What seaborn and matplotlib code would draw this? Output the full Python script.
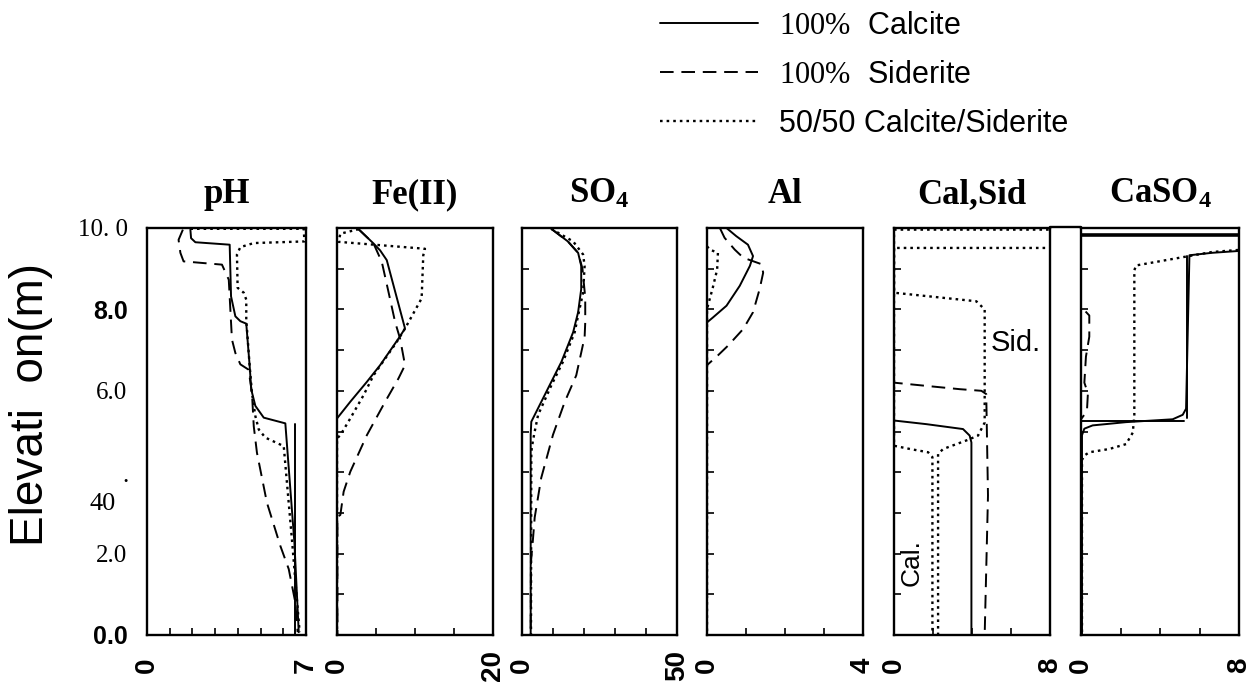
import numpy as np
import pandas as pd
import seaborn as sns
import matplotlib.pyplot as plt
from matplotlib.lines import Line2D

# ---------------- data ----------------
# pH panel
ph_cal_x = [1.91, 1.94, 2.13, 3.64, 3.70, 3.89, 4.11, 4.37, 4.52, 4.59, 4.77, 5.14, 6.09, 6.49, 6.68]
ph_cal_y = [9.96, 9.75, 9.65, 9.59, 8.32, 7.83, 7.71, 7.65, 6.61, 6.03, 5.63, 5.34, 5.20, 2.27, 0.07]
ph_front_x = [6.50, 6.50]
ph_front_y = [5.18, 0.02]
ph_sid_x = [1.58, 1.39, 1.47, 1.61, 3.30, 3.60, 3.74, 3.89, 4.11, 4.47, 4.62, 4.70, 4.84, 5.28, 5.87, 6.24, 6.53, 6.63]
ph_sid_y = [9.96, 9.71, 9.39, 9.18, 9.10, 8.73, 7.26, 6.93, 6.65, 6.52, 5.95, 5.13, 4.48, 3.25, 2.19, 1.62, 0.80, 0.07]
ph_mix_x = [1.91, 6.90, 6.93, 4.70, 4.11, 3.96, 3.99, 4.26, 4.37, 4.37, 4.52, 4.62, 4.77, 4.92, 5.21, 6.02, 6.38, 6.72]
ph_mix_y = [9.98, 9.98, 9.67, 9.63, 9.53, 9.35, 8.53, 8.41, 8.24, 7.75, 6.61, 5.95, 5.38, 5.05, 4.85, 4.64, 2.35, 0.07]

# Fe(II) panel
fe_cal_x = [2.77, 4.68, 5.53, 6.38, 8.72, 7.87, 5.53, 3.83, 1.70, 0.0, 0.0]
fe_cal_y = [9.97, 9.62, 9.45, 9.21, 7.53, 7.28, 6.63, 6.22, 5.73, 5.32, 0.0]
fe_sid_x = [2.77, 4.68, 5.74, 6.60, 7.45, 8.09, 8.72, 7.87, 6.17, 3.83, 1.70, 0.85, 0.43, 0.05, 0.05]
fe_sid_y = [9.97, 9.62, 9.17, 8.43, 7.69, 7.28, 6.63, 6.30, 5.73, 4.91, 4.01, 3.52, 2.95, 2.90, 0.0]
fe_mix_x = [2.77, 0.43, 0.20, 11.28, 11.06, 10.85, 8.72, 7.66, 4.68, 3.40, 1.70, 0.43, 0.0, 0.0]
fe_mix_y = [9.97, 9.86, 9.66, 9.49, 9.33, 8.27, 7.53, 7.20, 6.38, 5.89, 5.32, 4.91, 4.83, 0.0]

# SO4 panel
so4_cal_x = [9.46, 14.8, 18.1, 19.1, 19.1, 18.1, 16.5, 12.7, 8.4, 3.0, 2.8, 2.8]
so4_cal_y = [9.98, 9.67, 9.39, 9.07, 8.50, 7.93, 7.44, 6.71, 6.06, 5.24, 4.92, 0.0]
so4_sid_x = [9.46, 14.8, 18.1, 19.5, 20.4, 20.4, 20.2, 17.5, 13.8, 10.0, 6.2, 4.1, 3.5, 2.9, 2.8]
so4_sid_y = [9.98, 9.67, 9.39, 9.00, 8.29, 7.68, 7.32, 6.38, 5.73, 4.92, 3.86, 2.89, 2.32, 1.80, 0.0]
so4_mix_x = [9.46, 16.5, 19.7, 20.2, 19.7, 18.1, 17.0, 13.2, 9.5, 5.2, 4.1, 3.5, 3.0, 2.9]
so4_mix_y = [9.98, 9.67, 9.35, 9.07, 8.41, 7.85, 7.44, 6.71, 6.14, 5.41, 5.00, 4.76, 4.50, 0.0]

# Al panel
al_cal_x = [0.50, 0.75, 1.05, 1.18, 1.10, 0.84, 0.50, 0.15, 0.0, 0.0]
al_cal_y = [10.0, 9.80, 9.59, 9.31, 9.07, 8.58, 8.09, 7.80, 7.68, 0.0]
al_sid_x = [0.33, 0.45, 0.71, 0.93, 1.40, 1.44, 1.35, 1.18, 0.93, 0.54, 0.28, 0.0, 0.0]
al_sid_y = [10.0, 9.76, 9.47, 9.27, 9.11, 8.90, 8.50, 7.93, 7.52, 7.11, 6.87, 6.63, 0.0]
al_mix_x = [0.0, 0.07, 0.28, 0.26, 0.15, 0.0, 0.0]
al_mix_y = [9.55, 9.47, 9.39, 8.98, 8.54, 8.01, 0.0]

# Cal,Sid panel
cs_cal_x = [0.0, 0.0, 1.67, 3.54, 3.88, 3.97, 3.97]
cs_cal_y = [10.0, 5.27, 5.18, 5.06, 4.90, 4.73, 0.0]
cs_sid_x = [0.0, 0.0, 1.67, 3.37, 4.48, 4.73, 4.82, 4.65]
cs_sid_y = [10.0, 6.20, 6.12, 6.04, 6.00, 5.92, 3.43, 0.0]
cs_mixsid_x = [0.0, 9.0, 9.0, 0.0, 0.0, 4.22, 4.65, 4.65, 4.31, 3.71, 2.52, 2.26, 2.26]
cs_mixsid_y = [9.96, 9.96, 9.51, 9.51, 8.41, 8.20, 8.00, 5.22, 4.90, 4.78, 4.57, 4.45, 0.0]
cs_mixcal_x = [0.0, 0.0, 0.82, 1.75, 1.97, 1.97]
cs_mixcal_y = [10.0, 4.65, 4.57, 4.49, 4.37, 0.0]

# CaSO4 panel
caso4_top_x = [0.0, 9.0]
caso4_top_y = [9.82, 9.82]
caso4_cal_x = [9.0, 6.63, 5.49, 5.32, 5.15, 4.64, 2.28, 0.59, 0.17, 0.05, 0.05]
caso4_cal_y = [9.47, 9.39, 9.33, 5.56, 5.41, 5.30, 5.23, 5.15, 5.07, 4.91, 0.0]
caso4_step_x = [0.0, 5.23]
caso4_step_y = [5.25, 5.25]
caso4_stepv_x = [5.37, 5.37]
caso4_stepv_y = [9.30, 5.33]
caso4_sid_x = [0.0, 0.0, 0.17, 0.42, 0.42, 0.25, 0.17, 0.35, 0.30, 0.0, 0.0]
caso4_sid_y = [10.0, 8.05, 7.98, 7.85, 7.33, 6.84, 6.20, 5.94, 5.50, 5.30, 0.0]
caso4_mix_x = [9.0, 6.63, 2.79, 2.70, 2.70, 2.62, 2.28, 1.43, 0.42, 0.17, 0.05, 0.05]
caso4_mix_y = [9.50, 9.41, 9.08, 8.96, 5.38, 4.97, 4.69, 4.57, 4.49, 4.41, 4.30, 0.0]

titles = ['pH', 'Fe(II)', r'$\mathbf{SO_4}$', 'Al', 'Cal,Sid', r'$\mathbf{CaSO_4}$']
x_max = [7, 20, 50, 4, 8, 8]
x_step = [1, 5, 10, 1, 2, 2]
y_ticklabels = ['0.0', '', '2.0', '', '', '', '6.0', '', '8.0', '', '10. 0']
legend_labels = [r'$\mathrm{100\%}$  Calcite', r'$\mathrm{100\%}$  Siderite', '50/50 Calcite/Siderite']

# ---------------- styling ----------------
sns.set_theme(style='white')
plt.rcParams['font.family'] = ['Liberation Sans', 'DejaVu Sans']
plt.rcParams['mathtext.fontset'] = 'custom'
plt.rcParams['mathtext.rm'] = 'Liberation Serif'
plt.rcParams['mathtext.bf'] = 'Liberation Serif:bold'
for key in ['text.color', 'axes.labelcolor', 'xtick.color', 'ytick.color', 'axes.edgecolor']:
    plt.rcParams[key] = 'black'

SOLID = dict(color='black', lw=1.4, linestyle='-')
DASH = dict(color='black', lw=1.4, linestyle=(0, (7, 4)))
DOT = dict(color='black', lw=1.7, linestyle=(0, (1.1, 1.7)))

W, H = 1257, 694
fig = plt.figure(figsize=(W / 100, H / 100), dpi=100)
fig.patch.set_facecolor('white')

lefts = [147, 337, 522, 707, 894, 1081]
rights = [306, 493, 677, 863, 1050, 1239]
top_px, bot_px = 228, 635

series = [
    [(ph_cal_x, ph_cal_y, SOLID), (ph_front_x, ph_front_y, SOLID),
     (ph_sid_x, ph_sid_y, DASH), (ph_mix_x, ph_mix_y, DOT)],
    [(fe_cal_x, fe_cal_y, SOLID), (fe_sid_x, fe_sid_y, DASH), (fe_mix_x, fe_mix_y, DOT)],
    [(so4_cal_x, so4_cal_y, SOLID), (so4_sid_x, so4_sid_y, DASH), (so4_mix_x, so4_mix_y, DOT)],
    [(al_cal_x, al_cal_y, SOLID), (al_sid_x, al_sid_y, DASH), (al_mix_x, al_mix_y, DOT)],
    [(cs_cal_x, cs_cal_y, SOLID), (cs_sid_x, cs_sid_y, DASH),
     (cs_mixsid_x, cs_mixsid_y, DOT), (cs_mixcal_x, cs_mixcal_y, DOT)],
    [(caso4_top_x, caso4_top_y, dict(SOLID, lw=2.6)), (caso4_cal_x, caso4_cal_y, SOLID),
     (caso4_step_x, caso4_step_y, SOLID), (caso4_stepv_x, caso4_stepv_y, SOLID),
     (caso4_sid_x, caso4_sid_y, DASH), (caso4_mix_x, caso4_mix_y, DOT)],
]

axes = []
for i in range(6):
    ax = fig.add_axes([lefts[i] / W, 1 - bot_px / H, (rights[i] - lefts[i]) / W, (bot_px - top_px) / H])
    ax.set_facecolor('white')
    for xs, ys, st in series[i]:
        sns.lineplot(x=xs, y=ys, sort=False, estimator=None, ax=ax, **st)
    ax.set_xlim(0, x_max[i])
    ax.set_ylim(0, 10)
    ax.set_xlabel('')
    ax.set_ylabel('')
    for sp in ax.spines.values():
        sp.set_visible(True)
        sp.set_color('black')
        sp.set_linewidth(1.7)
    xt = np.arange(0, x_max[i] + x_step[i] / 2, x_step[i])
    xl = [''] * len(xt)
    xl[0] = '0'
    xl[-1] = str(x_max[i])
    ax.set_xticks(xt, xl, rotation=90, va='center', ha='center', fontsize=20, fontweight='bold')
    ax.set_yticks(np.arange(0, 11, 1))
    ax.tick_params(axis='x', direction='in', bottom=True, top=False, length=5, width=1.2, pad=22, colors='black')
    if i == 0:
        ax.set_yticklabels(y_ticklabels, fontsize=18)
        for lab in ax.get_yticklabels():
            if lab.get_text() in ('8.0', '0.0'):
                lab.set_fontfamily('Liberation Sans')
                lab.set_fontweight('bold')
            else:
                lab.set_fontfamily('Liberation Serif')
        ax.tick_params(axis='y', direction='in', left=True, right=False, length=0, pad=14, colors='black')
    else:
        ax.set_yticklabels([])
        ax.tick_params(axis='y', direction='in', left=True, right=False, length=5, width=1.2, pad=14, colors='black')
    ax.set_title(titles[i], fontsize=25, fontweight='bold', fontfamily='Liberation Serif', pad=18)
    axes.append(ax)

# annotations inside Cal,Sid panel
axes[4].text(4.97, 7.18, 'Sid.', fontsize=21, ha='left', va='center')
axes[4].text(0.90, 1.79, 'Cal.', fontsize=19, ha='center', va='center', rotation=90)

# odd tick label of pH axis and stray dot
fig.text(116 / W, 1 - 504 / H, '40', fontsize=19, fontfamily='Liberation Serif', ha='right', va='center')
fig.text(125 / W, 1 - 476 / H, '.', fontsize=18, fontfamily='Liberation Serif', ha='center', va='center')

# y axis label
fig.text(31 / W, 1 - 405 / H, 'Elevati  on(m)', fontsize=33, rotation=90, ha='center', va='center')

# connecting line between last two frames
fig.add_artist(Line2D([1050 / W, 1081 / W], [1 - 227 / H, 1 - 227 / H], color='black', lw=1.7))

# legend
handles = [Line2D([], [], **SOLID), Line2D([], [], **DASH), Line2D([], [], **DOT)]
fig.legend(handles, legend_labels, loc='upper left', bbox_to_anchor=(660 / W, 1 - 11 / H),
           frameon=False, fontsize=22, handlelength=3.2, handletextpad=0.7,
           labelspacing=0.62, borderpad=0, borderaxespad=0)

fig.savefig('out.png', dpi=100, facecolor='white')
